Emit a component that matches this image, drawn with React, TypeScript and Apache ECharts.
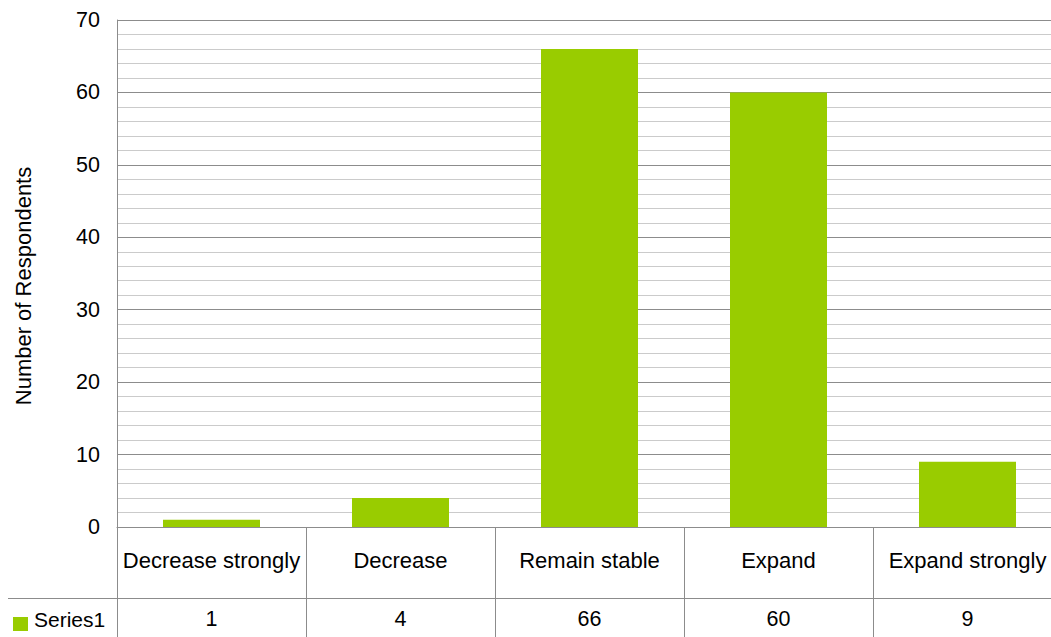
import React, { useEffect, useRef } from "react";
import * as echarts from "echarts";

// Survey responses: expected development, with a data table under the axis
const categories = ["Decrease strongly", "Decrease", "Remain stable", "Expand", "Expand strongly"];
const series1 = [1, 4, 66, 60, 9];
const seriesName = "Series1";
const axisTitle = "Number of Respondents";

const FONT = "'Liberation Sans', Arial, sans-serif";
const GREEN = "#99cc00";
const MAJOR = "#8c8c8c";
const MINOR = "#cbcbcb";
const TEXT = "#000000";

export default function App() {
  const ref = useRef<HTMLDivElement>(null);

  useEffect(() => {
    if (!ref.current) return;
    const chart = echarts.init(ref.current, null, { renderer: "svg" });
    chart.setOption({
      animation: false,
      backgroundColor: "#ffffff",
      grid: {
        left: 117,
        top: 20,
        width: 945,
        height: 507,
        containLabel: false,
        outerBoundsMode: "none",
      },
      xAxis: [
        {
          type: "category",
          data: categories,
          boundaryGap: true,
          axisLine: { show: true, lineStyle: { color: MAJOR, width: 1 } },
          axisTick: { show: true, length: 110, alignWithLabel: false, lineStyle: { color: MAJOR, width: 1 } },
          axisLabel: { margin: 22, color: TEXT, fontFamily: FONT, fontSize: 22, interval: 0 },
          splitLine: { show: false },
        },
        {
          type: "category",
          data: categories,
          position: "bottom",
          offset: 71,
          axisLine: { show: false },
          axisTick: { show: false },
          axisLabel: {
            margin: 10,
            color: TEXT,
            fontFamily: FONT,
            fontSize: 21.5,
            interval: 0,
            formatter: (_v: string, i: number) => String(series1[i]),
          },
        },
      ],
      yAxis: {
        type: "value",
        min: 0,
        max: 70,
        interval: 10,
        axisLine: { show: true, lineStyle: { color: MAJOR, width: 1 } },
        axisTick: { show: false },
        axisLabel: { margin: 17, color: TEXT, fontFamily: FONT, fontSize: 21.5 },
        splitLine: { show: true, lineStyle: { color: MAJOR, width: 1 } },
        minorTick: { show: false, splitNumber: 5 },
        minorSplitLine: { show: true, lineStyle: { color: MINOR, width: 1 } },
      },
      series: [
        {
          name: seriesName,
          type: "bar",
          data: series1,
          barWidth: 97,
          itemStyle: { color: GREEN },
          xAxisIndex: 0,
        },
      ],
      graphic: [
        {
          type: "text",
          x: 23,
          y: 286,
          rotation: Math.PI / 2,
          style: {
            text: axisTitle,
            fill: TEXT,
            font: `22px ${FONT}`,
            align: "center",
            verticalAlign: "middle",
          },
        },
        {
          type: "line",
          shape: { x1: 8, y1: 598.5, x2: 1051, y2: 598.5 },
          style: { stroke: MAJOR, lineWidth: 1 },
        },
        {
          type: "rect",
          shape: { x: 13, y: 617, width: 15, height: 14 },
          style: { fill: GREEN },
        },
        {
          type: "text",
          x: 34,
          y: 619,
          style: {
            text: seriesName,
            fill: TEXT,
            font: `21px ${FONT}`,
            align: "left",
            verticalAlign: "middle",
          },
        },
      ],
    });
    return () => chart.dispose();
  }, []);

  return (
    <div
      ref={ref}
      style={{ position: "fixed", left: 0, top: 0, width: 1051, height: 637, background: "#fff" }}
    />
  );
}
